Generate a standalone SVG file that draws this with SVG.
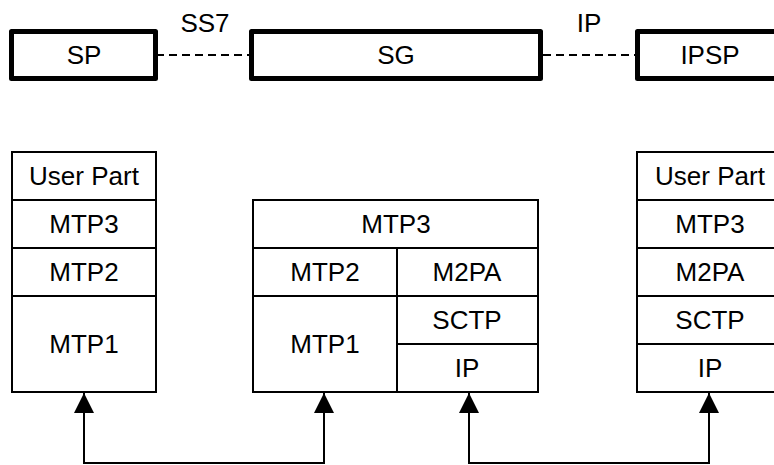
<svg xmlns="http://www.w3.org/2000/svg" width="774" height="465" viewBox="0 0 774 465">
  <style>
    text { font-family: "Liberation Sans", Arial, sans-serif; font-size: 26px; fill: #000; text-anchor: middle; }
    .node { fill: #fff; stroke: #000; stroke-width: 5; stroke-linejoin: round; }
    .cell { fill: #fff; stroke: #000; stroke-width: 2; }
    .rule { stroke: #000; stroke-width: 2; fill: none; }
    .link { stroke: #000; stroke-width: 2.2; stroke-dasharray: 8 5; fill: none; }
    .wire { stroke: #000; stroke-width: 2; fill: none; }
  </style>
  <defs>
    <marker id="arrow" markerWidth="20" markerHeight="20" refX="20" refY="10" orient="auto-start-reverse" markerUnits="userSpaceOnUse">
      <path d="M0,0 L20,10 L0,20 Z" fill="#000"/>
    </marker>
  </defs>
  <rect width="774" height="465" fill="#fff"/>

  <!-- network elements -->
  <g id="node-sp">
    <rect class="node" x="11.5" y="31.5" width="144" height="47"/>
    <text x="84" y="64">SP</text>
  </g>
  <g id="node-sg">
    <rect class="node" x="251.5" y="31.5" width="289" height="47"/>
    <text x="396" y="64">SG</text>
  </g>
  <g id="node-ipsp">
    <rect class="node" x="637.5" y="31.5" width="147" height="47"/>
    <text x="710" y="64">IPSP</text>
  </g>

  <!-- protocol stack of the SP -->
  <g id="stack-sp">
    <rect class="cell" x="12" y="152" width="144" height="240"/>
    <path class="rule" d="M12,200 H156 M12,248 H156 M12,296 H156"/>
    <text x="84" y="185">User Part</text>
    <text x="84" y="233">MTP3</text>
    <text x="84" y="281">MTP2</text>
    <text x="84" y="353">MTP1</text>
  </g>

  <!-- protocol stack of the SG -->
  <g id="stack-sg">
    <rect class="cell" x="253" y="200" width="285" height="192"/>
    <path class="rule" d="M253,248 H538 M253,296 H538 M397,248 V392 M397,344 H538"/>
    <text x="396" y="233">MTP3</text>
    <text x="325" y="281">MTP2</text>
    <text x="467" y="281">M2PA</text>
    <text x="325" y="353">MTP1</text>
    <text x="467" y="329">SCTP</text>
    <text x="467" y="377">IP</text>
  </g>

  <!-- protocol stack of the IPSP -->
  <g id="stack-ipsp">
    <rect class="cell" x="637" y="152" width="146" height="240"/>
    <path class="rule" d="M637,200 H783 M637,248 H783 M637,296 H783 M637,344 H783"/>
    <text x="710" y="185">User Part</text>
    <text x="710" y="233">MTP3</text>
    <text x="710" y="281">M2PA</text>
    <text x="710" y="329">SCTP</text>
    <text x="710" y="377">IP</text>
  </g>

  <!-- connectors -->
  <g id="connectors">
    <line class="link" x1="156" y1="55" x2="251" y2="55"/>
    <line class="link" x1="543" y1="55" x2="635" y2="55"/>
    <text x="205" y="32">SS7</text>
    <text x="589" y="32">IP</text>

    <path class="wire" d="M84,393 V463 H324 V393" marker-start="url(#arrow)" marker-end="url(#arrow)"/>
    <path class="wire" d="M469,393 V463 H709 V393" marker-start="url(#arrow)" marker-end="url(#arrow)"/>
  </g>
</svg>
